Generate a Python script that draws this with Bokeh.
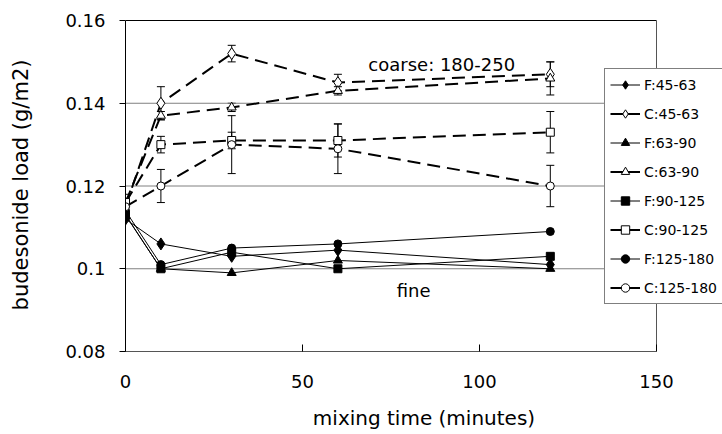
import numpy as np
from bokeh.plotting import figure
from bokeh.models import (Range1d, FixedTicker, Whisker, TeeHead, ColumnDataSource,
                          Legend, LegendItem, Label)
from bokeh.embed import file_html
from bokeh.resources import INLINE

# ---- data ----
time = [0, 10, 30, 60, 120]

f_45_63 = [0.112, 0.106, 0.103, 0.1045, 0.101]
c_45_63 = [0.115, 0.140, 0.152, 0.145, 0.147]
f_63_90 = [0.113, 0.100, 0.099, 0.102, 0.100]
c_63_90 = [0.116, 0.137, 0.139, 0.143, 0.146]
f_90_125 = [0.113, 0.100, 0.104, 0.100, 0.103]
c_90_125 = [0.116, 0.130, 0.131, 0.131, 0.133]
f_125_180 = [0.114, 0.101, 0.105, 0.106, 0.109]
c_125_180 = [0.115, 0.120, 0.130, 0.129, 0.120]

err_c_45_63 = [0.002, 0.004, 0.002, 0.002, 0.003]
err_c_63_90 = [0.001, 0.001, 0.001, 0.001, 0.004]
err_c_90_125 = [0.002, 0.002, 0.002, 0.004, 0.005]
err_c_125_180 = [0.002, 0.004, 0.007, 0.006, 0.005]

labels = ["F:45-63", "C:45-63", "F:63-90", "C:63-90",
          "F:90-125", "C:90-125", "F:125-180", "C:125-180"]
x_ticks = [0, 50, 100, 150]
y_ticks = [0.08, 0.1, 0.12, 0.14, 0.16]
y_tick_labels = ["0.08", "0.1", "0.12", "0.14", "0.16"]

series = [
    (labels[0], f_45_63, None, "diamond", True),
    (labels[1], c_45_63, err_c_45_63, "diamond", False),
    (labels[2], f_63_90, None, "triangle", True),
    (labels[3], c_63_90, err_c_63_90, "triangle", False),
    (labels[4], f_90_125, None, "square", True),
    (labels[5], c_90_125, err_c_90_125, "square", False),
    (labels[6], f_125_180, None, "circle", True),
    (labels[7], c_125_180, err_c_125_180, "circle", False),
]
marker_size = {"diamond": 12, "triangle": 9, "square": 8, "circle": 8}

FONT = "DejaVu Sans"

# ---- layout: plot area 0..150 spans 531 px; the frame continues to the
# canvas edge so the legend (which overlaps the right border) is not clipped
PLOT_W = 531
FRAME_W = 597
PLOT_H = 331
FRAME_H = 333
x_min, x_max = x_ticks[0], x_ticks[-1]
y_min, y_max = y_ticks[0], y_ticks[-1]
x_end = x_min + (x_max - x_min) * FRAME_W / PLOT_W
y_end = y_max + (y_max - y_min) * (FRAME_H - PLOT_H) / PLOT_H

p = figure(frame_width=FRAME_W, frame_height=FRAME_H,
           min_border_left=125, min_border_right=0,
           min_border_top=18, min_border_bottom=83,
           x_range=Range1d(x_min, x_end), y_range=Range1d(y_min, y_end),
           output_backend="svg", toolbar_location=None)

p.background_fill_color = "white"
p.border_fill_color = "white"
p.outline_line_color = None
p.xgrid.visible = False
p.ygrid.visible = False

p.xaxis.ticker = FixedTicker(ticks=x_ticks)
p.yaxis.ticker = FixedTicker(ticks=y_ticks)
p.xaxis.bounds = (x_min, x_max)
p.yaxis.bounds = (y_min, y_max)
p.yaxis.major_label_overrides = {t: s for t, s in zip(y_ticks, y_tick_labels)}

for ax in (p.xaxis[0], p.yaxis[0]):
    ax.major_label_text_font = FONT
    ax.major_label_text_font_size = "18px"
    ax.major_label_text_color = "black"
    ax.axis_label_text_font = FONT
    ax.axis_label_text_font_style = "normal"
    ax.axis_label_text_color = "black"
    ax.minor_tick_line_color = None
    ax.major_tick_line_color = "black"

p.xaxis.axis_label = "mixing time (minutes)"
p.xaxis.axis_label_text_font_size = "20px"
p.xaxis.axis_line_color = "#555555"
p.xaxis.major_tick_in = 7
p.xaxis.major_tick_out = 0
p.xaxis.major_label_standoff = 23
p.xaxis.axis_label_standoff = 15

p.yaxis.axis_label = "budesonide load (g/m2)"
p.yaxis.axis_label_text_font_size = "21px"
p.yaxis.axis_line_color = "black"
p.yaxis.major_tick_in = 0
p.yaxis.major_tick_out = 6
p.yaxis.major_label_standoff = 14
p.yaxis.axis_label_standoff = 29

# gridlines and the top / right border of the plot area
inner = y_ticks[1:-1]
p.segment(x0=[x_min] * len(inner), y0=inner, x1=[x_max] * len(inner), y1=inner,
          line_color="#808080", line_width=1)
p.segment(x0=[x_min], y0=[y_max], x1=[x_max], y1=[y_max],
          line_color="black", line_width=1)
p.segment(x0=[x_max], y0=[y_min], x1=[x_max], y1=[y_max],
          line_color="#555555", line_width=1)

# error bars
for name, vals, errs, marker, filled in series:
    if errs is None:
        continue
    src = ColumnDataSource(dict(x=time,
                                upper=[v + e for v, e in zip(vals, errs)],
                                lower=[v - e for v, e in zip(vals, errs)]))
    w = Whisker(base="x", upper="upper", lower="lower", source=src,
                line_color="black", line_width=1,
                upper_head=TeeHead(size=8, line_color="black", line_width=1),
                lower_head=TeeHead(size=8, line_color="black", line_width=1))
    p.add_layout(w)

# lines
for name, vals, errs, marker, filled in series:
    if filled:
        p.line(time, vals, line_color="black", line_width=1)
    else:
        p.line(time, vals, line_color="black", line_width=2, line_dash="13 7")

# markers + legend items (legend shows a solid line segment)
items = []
for name, vals, errs, marker, filled in series:
    sr = p.scatter(time, vals, marker=marker, size=marker_size[marker],
                   fill_color="black" if filled else "white",
                   line_color="black", line_width=1)
    lr = p.line(np.array([np.nan]), np.array([np.nan]),
                line_color="black", line_width=1 if filled else 2)
    items.append(LegendItem(label=name, renderers=[lr, sr]))

legend = Legend(items=items, location=(479, 47),
                label_text_font=FONT, label_text_font_size="14px",
                label_text_color="black",
                glyph_width=30, glyph_height=21, label_height=21,
                spacing=8, padding=5, margin=0, label_standoff=4,
                border_line_color="black", border_line_width=1,
                background_fill_color="white", background_fill_alpha=1)
p.add_layout(legend, "center")

p.add_layout(Label(x=68.6, y=0.1494, text="coarse: 180-250",
                   text_font=FONT, text_font_size="18px", text_color="black",
                   text_baseline="alphabetic"))
p.add_layout(Label(x=76.6, y=0.0947, text="fine",
                   text_font=FONT, text_font_size="18px", text_color="black",
                   text_baseline="alphabetic"))

open("out.html", "w").write(file_html(p, INLINE))
